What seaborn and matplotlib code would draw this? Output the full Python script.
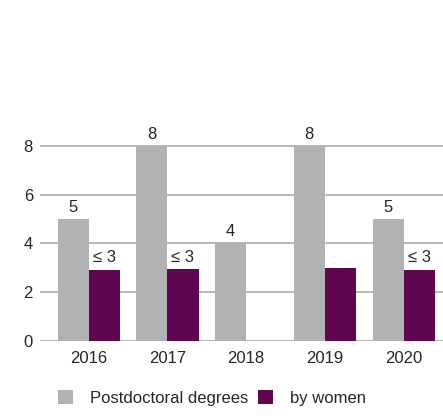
import numpy as np
import pandas as pd
import matplotlib
matplotlib.use("Agg")
import matplotlib.pyplot as plt
import seaborn as sns

years = ["2016", "2017", "2018", "2019", "2020"]
postdoc = [5, 8, 4, 8, 5]
women = [2.93, 2.95, np.nan, 2.98, 2.93]
postdoc_labels = ["5", "8", "4", "8", "5"]
women_labels = ["≤ 3", "≤ 3", "", "≤ 3", "≤ 3"]
series_names = ["Postdoctoral degrees", "by women"]

df = pd.DataFrame({
    "year": years * 2,
    "value": postdoc + women,
    "series": [series_names[0]] * len(years) + [series_names[1]] * len(years),
})

sns.set_style("white")
plt.rcParams["font.family"] = ["Liberation Sans", "DejaVu Sans"]

fig = plt.figure(figsize=(4.43, 4.16), dpi=100)
ax = fig.add_axes([0.09, 0.18, 0.91, 0.59])

sns.barplot(data=df, x="year", y="value", hue="series",
            palette=["#b1b2b4", "#5e0650"], width=0.79, saturation=1,
            edgecolor="none", linewidth=0, ax=ax)

# value labels (seaborn leaves None for the missing 2018 bar)
for cont, labels in zip(ax.containers, [postdoc_labels, women_labels]):
    for bar, lab in zip(cont, labels):
        if bar is None or lab == "":
            continue
        ax.annotate(lab, (bar.get_x() + bar.get_width() / 2, bar.get_height()),
                    xytext=(0, 3), textcoords="offset points",
                    ha="center", va="bottom", fontsize=12)

ax.set_ylim(0, 10.05)
ax.set_xlim(-0.62, 4.5)
ax.set_yticks([0, 2, 4, 6, 8])
ax.yaxis.grid(True, color="#aaaaaa", linewidth=1.2)
ax.set_axisbelow(True)
for s in ax.spines.values():
    s.set_visible(False)
ax.tick_params(axis="x", length=0, labelsize=12, pad=7)
ax.tick_params(axis="y", length=0, labelsize=12, pad=5)
ax.set_xlabel("")
ax.set_ylabel("")

handles, labs = ax.get_legend_handles_labels()
ax.get_legend().remove()
fig.legend(handles, labs, loc="center left", bbox_to_anchor=(58 / 443, 1 - 398 / 416),
           ncol=2, frameon=False, fontsize=12, handlelength=0.9, handleheight=0.9,
           columnspacing=0.6, handletextpad=1.0, borderpad=0, borderaxespad=0)

fig.savefig("out.png", dpi=100)
